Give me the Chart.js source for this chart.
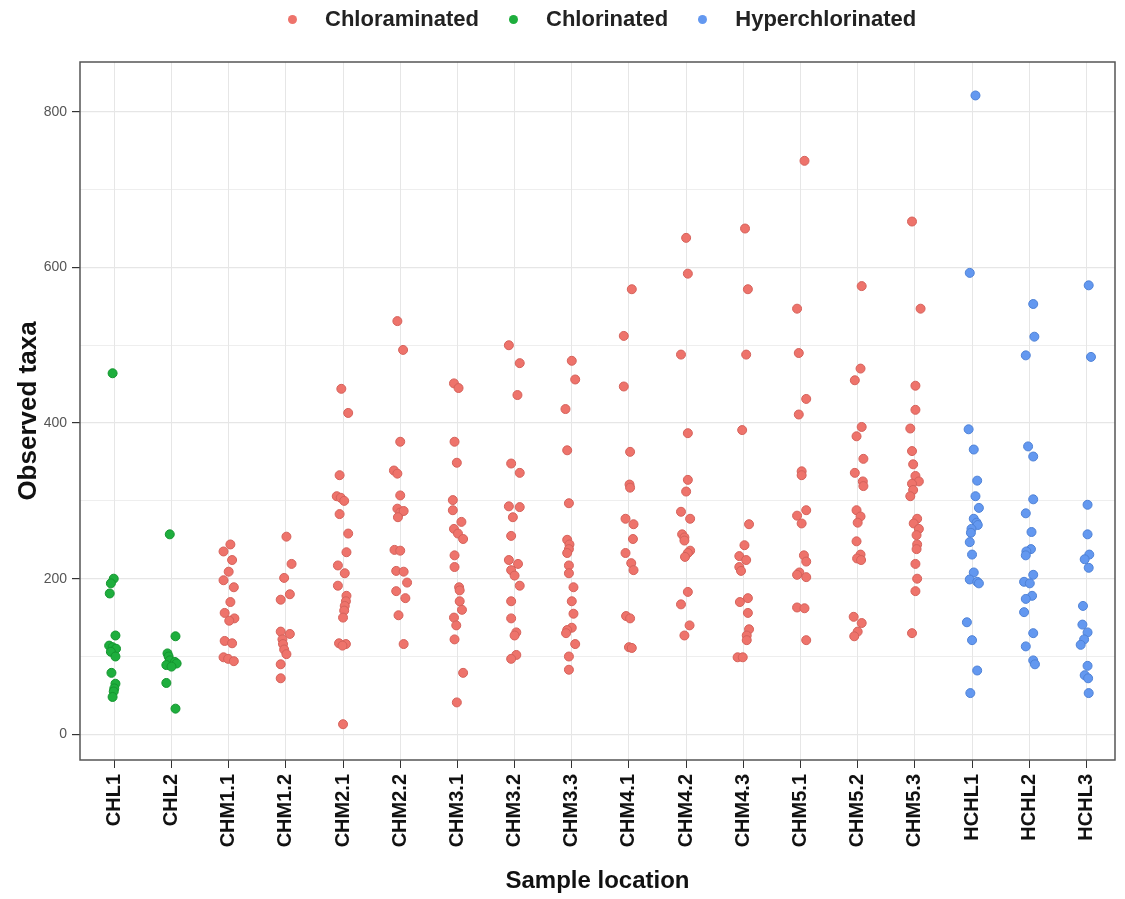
<!DOCTYPE html>
<html>
<head>
<meta charset="utf-8">
<script src="https://cdn.jsdelivr.net/npm/chart.js@4.4.1/dist/chart.umd.min.js"></script>
<style>
  html, body { margin: 0; padding: 0; background: #fff; }
  #wrap { position: relative; width: 1125px; height: 899px; }
  #legend {
    position: absolute; top: 0; left: 288px; height: 38px;
    display: flex; align-items: center;
    font: bold 22px "Liberation Sans", Arial, sans-serif; color: #222;
  }
  #legend .item { display: flex; align-items: center; margin-right: 30px; }
  #legend .dot { width: 9px; height: 9px; border-radius: 50%; margin-right: 28px; }
</style>
</head>
<body>
<div id="wrap">
  <div id="legend"></div>
  <canvas id="myChart" width="1125" height="899"></canvas>
</div>
<script>
const categories = ['CHL1', 'CHL2', 'CHM1.1', 'CHM1.2', 'CHM2.1', 'CHM2.2', 'CHM3.1', 'CHM3.2', 'CHM3.3',
  'CHM4.1', 'CHM4.2', 'CHM4.3', 'CHM5.1', 'CHM5.2', 'CHM5.3', 'HCHL1', 'HCHL2', 'HCHL3'];
const yTicks = [0, 100, 200, 300, 400, 500, 600, 700, 800];

// observed taxa per sample (one value per dot)
const chl1 = [464, 200, 194, 181, 127, 114, 112, 110, 106, 100, 79, 65, 59, 55, 48];
const chl2 = [257, 126, 104, 100, 95, 93, 91, 89, 87, 66, 33];
const chm11 = [244, 235, 224, 209, 198, 189, 170, 156, 149, 146, 120, 117, 99, 97, 94];
const chm12 = [254, 219, 201, 180, 173, 132, 129, 122, 116, 109, 103, 90, 72];
const chm21 = [444, 413, 333, 306, 304, 300, 283, 258, 234, 217, 207, 191, 178, 171, 165, 159, 150, 117, 116, 114, 13];
const chm22 = [531, 494, 376, 339, 335, 307, 290, 285, 287, 279, 237, 236, 210, 209, 195, 184, 175, 153, 116];
const chm31 = [451, 445, 376, 349, 301, 288, 273, 264, 258, 251, 230, 215, 189, 185, 171, 160, 150, 140, 122, 79, 41];
const chm32 = [500, 477, 436, 348, 336, 293, 292, 279, 255, 224, 219, 211, 204, 191, 171, 149, 131, 127, 102, 97];
const chm33 = [480, 456, 418, 365, 297, 250, 244, 238, 233, 217, 207, 189, 171, 155, 137, 134, 130, 116, 100, 83];
const chm41 = [572, 512, 447, 363, 321, 317, 277, 270, 251, 233, 220, 211, 152, 149, 112, 111];
const chm42 = [638, 592, 488, 387, 327, 312, 286, 277, 257, 253, 249, 236, 233, 228, 183, 167, 140, 127];
const chm43 = [650, 572, 488, 391, 270, 243, 229, 224, 215, 210, 175, 170, 156, 135, 127, 121, 99, 99];
const chm51 = [737, 547, 490, 431, 411, 338, 333, 288, 281, 271, 230, 222, 208, 205, 202, 163, 162, 121];
const chm52 = [576, 470, 455, 395, 383, 354, 336, 325, 319, 288, 280, 272, 248, 231, 226, 224, 151, 143, 132, 126];
const chm53 = [659, 547, 448, 417, 393, 364, 347, 332, 325, 322, 314, 306, 277, 271, 264, 256, 244, 238, 219, 200, 184, 130];
const hchl1 = [821, 593, 392, 366, 326, 306, 291, 277, 272, 269, 264, 259, 247, 231, 208, 199, 196, 194, 144, 121, 82, 53];
const hchl2 = [553, 511, 487, 370, 357, 302, 284, 260, 238, 235, 230, 205, 196, 194, 178, 174, 157, 130, 113, 95, 90];
const hchl3 = [577, 485, 295, 257, 231, 225, 214, 165, 141, 131, 122, 115, 88, 76, 72, 53];

// horizontal jitter of each dot, in category widths
const chl1Jit = [-0.03, -0.01, -0.06, -0.08, 0.02, -0.09, -0.03, 0.03, -0.06, 0.02, -0.05, 0.02, 0, -0.01, -0.03];
const chl2Jit = [-0.03, 0.07, -0.07, -0.05, -0.03, 0.06, 0.09, -0.09, 0, -0.09, 0.07];
const chm11Jit = [0.03, -0.09, 0.06, 0, -0.09, 0.09, 0.03, -0.07, 0.1, 0.01, -0.07, 0.06, -0.09, -0.01, 0.09];
const chm12Jit = [0.01, 0.1, -0.03, 0.07, -0.09, -0.09, 0.07, -0.06, -0.05, -0.03, 0.01, -0.09, -0.09];
const chm21Jit = [-0.03, 0.09, -0.06, -0.11, -0.04, 0.02, -0.06, 0.09, 0.06, -0.09, 0.03, -0.09, 0.06, 0.05, 0.03, 0.02, 0, -0.07, 0.05, -0.01, 0];
const chm22Jit = [-0.05, 0.05, 0, -0.11, -0.05, 0, -0.05, 0, 0.06, -0.04, -0.1, 0, -0.07, 0.06, 0.12, -0.07, 0.09, -0.03, 0.06];
const chm31Jit = [-0.06, 0.02, -0.05, -0.01, -0.08, -0.08, 0.07, -0.06, 0.01, 0.1, -0.05, -0.05, 0.03, 0.04, 0.04, 0.08, -0.06, -0.02, -0.05, 0.1, -0.01];
const chm32Jit = [-0.1, 0.09, 0.05, -0.06, 0.09, -0.1, 0.09, -0.03, -0.06, -0.1, 0.06, -0.06, 0, 0.09, -0.06, -0.06, 0.03, 0, 0.03, -0.06];
const chm33Jit = [0, 0.06, -0.11, -0.08, -0.05, -0.08, -0.04, -0.05, -0.08, -0.05, -0.05, 0.03, 0, 0.03, 0, -0.08, -0.1, 0.06, -0.05, -0.05];
const chm41Jit = [0.05, -0.09, -0.09, 0.02, 0.01, 0.02, -0.06, 0.08, 0.07, -0.06, 0.04, 0.08, -0.05, 0.02, 0, 0.05];
const chm42Jit = [0, 0.03, -0.09, 0.03, 0.03, 0, -0.09, 0.07, -0.07, -0.03, -0.03, 0.07, 0.03, -0.02, 0.03, -0.09, 0.06, -0.03];
const chm43Jit = [0.03, 0.08, 0.05, -0.02, 0.1, 0.02, -0.07, 0.05, -0.07, -0.04, 0.08, -0.06, 0.08, 0.1, 0.06, 0.06, -0.1, -0.01];
const chm51Jit = [0.07, -0.06, -0.03, 0.1, -0.03, 0.02, 0.02, 0.1, -0.06, 0.02, 0.06, 0.1, -0.02, -0.06, 0.1, -0.06, 0.07, 0.1];
const chm52Jit = [0.07, 0.05, -0.05, 0.07, -0.02, 0.1, -0.05, 0.09, 0.1, -0.02, 0.05, 0, -0.02, 0.05, -0.01, 0.06, -0.07, 0.07, 0, -0.06];
const chm53Jit = [-0.05, 0.1, 0.01, 0.01, -0.08, -0.05, -0.03, 0.01, 0.07, -0.05, -0.03, -0.08, 0.04, -0.02, 0.07, 0.03, 0.04, 0.03, 0.01, 0.04, 0.01, -0.05];
const hchl1Jit = [0.06, -0.04, -0.06, 0.03, 0.09, 0.06, 0.12, 0.03, 0.08, 0.1, -0.01, -0.02, -0.04, 0, 0.03, -0.04, 0.09, 0.12, -0.09, 0, 0.09, -0.03];
const hchl2Jit = [0.07, 0.09, -0.06, -0.02, 0.07, 0.07, -0.06, 0.04, 0.03, -0.05, -0.06, 0.07, -0.09, 0.01, 0.05, -0.06, -0.09, 0.07, -0.06, 0.07, 0.1];
const hchl3Jit = [0.04, 0.08, 0.02, 0.02, 0.05, -0.03, 0.04, -0.06, -0.07, 0.02, -0.04, -0.1, 0.02, -0.03, 0.03, 0.04];

const points = (cat, values, jit) => values.map((v, i) => ({ x: categories.indexOf(cat) + jit[i], y: v }));

const chlorinatedPts = [
  ...points('CHL1', chl1, chl1Jit),
  ...points('CHL2', chl2, chl2Jit),
];
const chloraminatedPts = [
  ...points('CHM1.1', chm11, chm11Jit),
  ...points('CHM1.2', chm12, chm12Jit),
  ...points('CHM2.1', chm21, chm21Jit),
  ...points('CHM2.2', chm22, chm22Jit),
  ...points('CHM3.1', chm31, chm31Jit),
  ...points('CHM3.2', chm32, chm32Jit),
  ...points('CHM3.3', chm33, chm33Jit),
  ...points('CHM4.1', chm41, chm41Jit),
  ...points('CHM4.2', chm42, chm42Jit),
  ...points('CHM4.3', chm43, chm43Jit),
  ...points('CHM5.1', chm51, chm51Jit),
  ...points('CHM5.2', chm52, chm52Jit),
  ...points('CHM5.3', chm53, chm53Jit),
];
const hyperPts = [
  ...points('HCHL1', hchl1, hchl1Jit),
  ...points('HCHL2', hchl2, hchl2Jit),
  ...points('HCHL3', hchl3, hchl3Jit),
];

const gridGrey = '#e6e6e6';
const axisFont = 'Liberation Sans, Arial, sans-serif';

// ggplot style panel border round the plot area
const panelBorder = {
  id: 'panelBorder',
  afterDraw(chart) {
    const { ctx, chartArea: a } = chart;
    ctx.save();
    ctx.strokeStyle = '#555';
    ctx.lineWidth = 1.5;
    ctx.strokeRect(a.left, a.top, a.right - a.left, a.bottom - a.top);
    ctx.restore();
  },
};

// legend as html above the canvas, built from the datasets
const htmlLegend = {
  id: 'htmlLegend',
  afterUpdate(chart) {
    const box = document.getElementById('legend');
    box.innerHTML = '';
    chart.data.datasets.forEach((ds) => {
      const item = document.createElement('div');
      item.className = 'item';
      const dot = document.createElement('span');
      dot.className = 'dot';
      dot.style.background = ds.backgroundColor;
      const txt = document.createElement('span');
      txt.textContent = ds.label;
      item.append(dot, txt);
      box.appendChild(item);
    });
  },
};

const dot = (fill, edge) => ({
  backgroundColor: fill,
  borderColor: edge,
  borderWidth: 1,
  pointRadius: 4.5,
  pointHoverRadius: 4.5,
});

new Chart(document.getElementById('myChart'), {
  type: 'scatter',
  data: {
    datasets: [
      { label: 'Chloraminated', data: chloraminatedPts, ...dot('#ee736b', '#d5625b') },
      { label: 'Chlorinated', data: chlorinatedPts, ...dot('#1eae3d', '#14952f') },
      { label: 'Hyperchlorinated', data: hyperPts, ...dot('#6398f0', '#4f82d6') },
    ],
  },
  plugins: [panelBorder, htmlLegend],
  options: {
    responsive: false,
    animation: false,
    layout: { padding: { top: 62, right: 10, bottom: 0, left: 0 } },
    plugins: {
      tooltip: { enabled: false },
      legend: { display: false },
    },
    scales: {
      x: {
        type: 'linear',
        min: -0.6,
        max: 17.5,
        afterBuildTicks: (s) => { s.ticks = categories.map((_, i) => ({ value: i })); },
        afterFit: (s) => { s.height = 139; },
        grid: { color: gridGrey, lineWidth: 1, tickColor: '#333', tickLength: 8 },
        border: { display: false },
        ticks: {
          autoSkip: false,
          minRotation: 90,
          maxRotation: 90,
          padding: 6,
          color: '#111',
          font: { family: axisFont, size: 20, weight: 'bold' },
          callback: (v) => categories[v],
        },
        title: {
          display: true,
          text: 'Sample location',
          color: '#111',
          padding: { top: 4, bottom: 3 },
          font: { family: axisFont, size: 24, weight: 'bold' },
        },
      },
      y: {
        min: -33,
        max: 864,
        afterBuildTicks: (s) => { s.ticks = yTicks.map((v) => ({ value: v })); },
        afterFit: (s) => { s.width = 80; },
        grid: {
          color: gridGrey,
          lineWidth: (c) => (c.tick && c.tick.value % 200 === 0 ? 1.2 : 0.7),
          tickColor: (c) => (c.tick && c.tick.value % 200 === 0 ? '#333' : 'rgba(0,0,0,0)'),
          tickLength: 8,
        },
        border: { display: false },
        ticks: {
          padding: 5,
          color: '#555',
          font: { family: axisFont, size: 14 },
          callback: (v) => (v % 200 === 0 ? v : ''),
        },
        title: {
          display: true,
          text: 'Observed taxa',
          color: '#111',
          padding: { top: 13 },
          font: { family: axisFont, size: 26, weight: 'bold' },
        },
      },
    },
  },
});
</script>
</body>
</html>
